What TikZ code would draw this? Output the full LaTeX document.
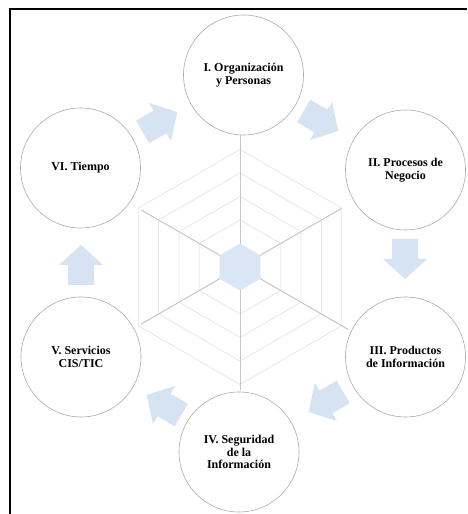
\documentclass[tikz,border=0pt]{standalone}
\usepackage{fontspec}
\setmainfont{Liberation Serif}
\usetikzlibrary{shapes.geometric}
\definecolor{arrowblue}{HTML}{D6E3F3}
\definecolor{hubblue}{HTML}{DAE6F4}
\definecolor{ringgrey}{HTML}{E6E6E6}
\definecolor{spokegrey}{HTML}{C6C6C6}
\definecolor{circgrey}{HTML}{ABABAB}
\tikzset{
  stage/.style={circle, draw=circgrey, line width=0.6pt, fill=white, minimum size=120pt, inner sep=0pt,
    align=center, font=\fontsize{12}{12.5}\selectfont\bfseries},
  web/.style={draw=ringgrey, line width=0.8pt},
  spoke/.style={draw=spokegrey, line width=1pt},
  blockarrow/.pic={\fill[arrowblue] (-20,-13) -- (0,-13) -- (0,-22) -- (20,0) -- (0,22) -- (0,13) -- (-20,13) -- cycle;}
}
\begin{document}
\begin{tikzpicture}[x=1pt,y=1pt]
\useasboundingbox (0,0) rectangle (467,514);
\draw[line width=2pt] (9.5,0) -- (9.5,504.5) -- (467,504.5);
\coordinate (c) at (240,247);
% web rings
\foreach \r in {47,70.5,94,117.5}
  \draw[web] (c) ++(90:\r) -- ++(-30:\r) -- ++(-90:\r) -- ++(-150:\r) -- ++(150:\r) -- ++(90:\r) -- cycle;
% spokes
\foreach \a/\l in {90/132,30/117,-30/125,-90/123,-150/114,150/114}
  \draw[spoke] (c) -- ++(\a:\l);
% hub
\node[regular polygon, regular polygon sides=6, shape border rotate=30, minimum size=47pt, inner sep=0pt, fill=hubblue] (hub) at (c) {};
% stages
\node[stage] (s1) at (243.5,439) {I. Organización\\y Personas};
\node[stage] (s2) at (405.5,344) {II. Procesos de\\Negocio};
\node[stage] (s3) at (405.5,157) {III. Productos\\de Información};
\node[stage] (s4) at (239,62) {IV. Seguridad\\de la\\Información};
\node[stage] (s5) at (81,157) {V. Servicios\\CIS/TIC};
\node[stage] (s6) at (80.5,346) {VI. Tiempo};
% arrows
\pic[rotate=-30] (a1) at (321,393) {blockarrow};
\pic[rotate=-90] (a2) at (405,255) {blockarrow};
\pic[rotate=-150] (a3) at (326,112) {blockarrow};
\pic[rotate=150] (a4) at (164,109) {blockarrow};
\pic[rotate=90] (a5) at (81,249) {blockarrow};
\pic[rotate=30] (a6) at (160,392) {blockarrow};
\end{tikzpicture}
\end{document}
